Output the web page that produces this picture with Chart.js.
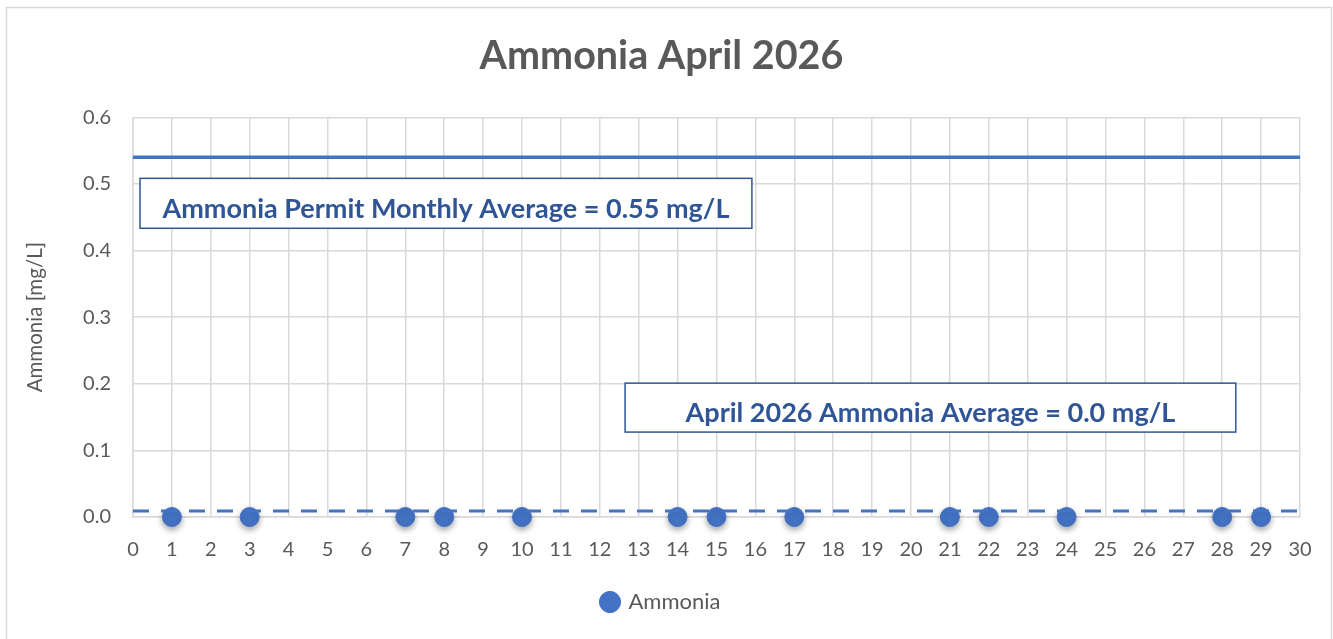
<!DOCTYPE html>
<html>
<head>
<meta charset="utf-8">
<script src="https://cdn.jsdelivr.net/npm/chart.js@4.4.0/dist/chart.umd.min.js"></script>
<style>
  html, body { margin: 0; padding: 0; background: #fff; }
  #wrap { position: absolute; left: 0; top: 0; width: 1333px; height: 639px; }
</style>
</head>
<body>
<div id="wrap"><canvas id="grafico"></canvas></div>
<script>
// dados do gráfico
const diasAmostra = [1, 3, 7, 8, 10, 14, 15, 17, 21, 22, 24, 28, 29];
const valoresAmonia = [0, 0, 0, 0, 0, 0, 0, 0, 0, 0, 0, 0, 0];
const limitePermit = 0.54;     // linha contínua (limite)
const mediaMes = 0.009;        // linha tracejada (média do mês)
const limiteX = [0, 30];
const ticksY = [0, 0.1, 0.2, 0.3, 0.4, 0.5, 0.6];

// caixas de texto (em unidades dos eixos)
const caixas = [
    { texto: 'Ammonia Permit Monthly Average = 0.55 mg/L', x0: 0.18, x1: 15.91, yTopo: 0.5085, yBase: 0.4335 },
    { texto: 'April 2026 Ammonia Average = 0.0 mg/L', x0: 12.65, x1: 28.35, yTopo: 0.201, yBase: 0.1275 }
];

const azul = '#4472C4';
const azulEscuro = '#2F5597';
const fonte = 'Lato, "Open Sans", sans-serif';

// moldura externa, caixas de anotação e sombra dos pontos
const pluginExtras = {
    id: 'extras',
    beforeDraw(chart) {
        const ctx = chart.ctx;
        ctx.save();
        ctx.strokeStyle = '#D9D9D9';
        ctx.lineWidth = 1.5;
        ctx.strokeRect(6.5, 7.5, 1325, 700);
        ctx.restore();
    },
    afterDatasetsDraw(chart) {
        const ctx = chart.ctx;
        const sx = chart.scales.x, sy = chart.scales.y;
        ctx.save();
        caixas.forEach(c => {
            const l = sx.getPixelForValue(c.x0), r = sx.getPixelForValue(c.x1);
            const t = sy.getPixelForValue(c.yTopo), b = sy.getPixelForValue(c.yBase);
            ctx.fillStyle = '#fff';
            ctx.fillRect(l, t, r - l, b - t);
            ctx.strokeStyle = azulEscuro;
            ctx.lineWidth = 1.5;
            ctx.strokeRect(l, t, r - l, b - t);
            ctx.fillStyle = azulEscuro;
            ctx.font = 'bold 27px ' + fonte;
            ctx.textAlign = 'center';
            ctx.textBaseline = 'middle';
            ctx.fillText(c.texto, (l + r) / 2, (t + b) / 2 + 6, r - l - 30);
        });
        ctx.restore();
    },
    beforeDatasetDraw(chart, args) {
        if (args.index === 0) {
            const ctx = chart.ctx;
            ctx.save();
            ctx.shadowColor = 'rgba(0,0,0,0.35)';
            ctx.shadowBlur = 6;
            ctx.shadowOffsetY = 3;
        }
    },
    afterDatasetDraw(chart, args) {
        if (args.index === 0) chart.ctx.restore();
    }
};

const ctx = document.getElementById('grafico').getContext('2d');
new Chart(ctx, {
    type: 'scatter',
    data: {
        datasets: [
            {
                label: 'Ammonia',
                data: diasAmostra.map((d, i) => ({ x: d, y: valoresAmonia[i] })),
                backgroundColor: azul,
                borderColor: azul,
                pointRadius: 9.5,
                pointHoverRadius: 9.5,
                clip: false,
                order: 2
            },
            {
                label: 'Permit',
                type: 'line',
                data: limiteX.map(x => ({ x: x, y: limitePermit })),
                borderColor: azul,
                borderWidth: 3.5,
                pointRadius: 0,
                order: 1
            },
            {
                label: 'Media',
                type: 'line',
                data: limiteX.map(x => ({ x: x, y: mediaMes })),
                borderColor: azul,
                borderWidth: 3,
                borderDash: [16, 12],
                pointRadius: 0,
                order: 0
            }
        ]
    },
    options: {
        responsive: true,
        maintainAspectRatio: false,
        animation: false,
        layout: { padding: { left: 23, right: 33, top: 0, bottom: 16 } },
        plugins: {
            title: {
                display: true,
                text: 'Ammonia April 2026',
                color: '#595959',
                font: { family: fonte, size: 39.5, weight: 'bold', lineHeight: 1.2 },
                padding: { top: 33, bottom: 37 }
            },
            legend: {
                display: true,
                position: 'bottom',
                labels: {
                    filter: item => item.datasetIndex === 0,
                    usePointStyle: true,
                    pointStyle: 'circle',
                    boxWidth: 15,
                    boxHeight: 15,
                    color: '#595959',
                    font: { family: fonte, size: 22 },
                    padding: 10
                }
            },
            tooltip: { enabled: false }
        },
        scales: {
            x: {
                type: 'linear',
                min: 0,
                max: 30,
                ticks: { stepSize: 1, color: '#595959', font: { family: fonte, size: 20 }, padding: 21 },
                grid: { color: '#D9D9D9', lineWidth: 1.5, drawTicks: false },
                border: { color: '#D9D9D9', width: 1.5 },
                afterFit: s => { s.height = 64; }
            },
            y: {
                min: 0,
                max: 0.6,
                afterBuildTicks: s => { s.ticks = ticksY.map(v => ({ value: v })); },
                ticks: { color: '#595959', font: { family: fonte, size: 20 }, padding: 22, callback: v => v.toFixed(1) },
                grid: { color: '#D9D9D9', lineWidth: 1.5, drawTicks: false },
                border: { color: '#D9D9D9', width: 1.5 },
                title: {
                    display: true,
                    text: 'Ammonia [mg/L]',
                    color: '#595959',
                    font: { family: fonte, size: 20.5 },
                    padding: { top: 0, bottom: 0 }
                },
                afterFit: s => { s.width = 110; }
            }
        }
    },
    plugins: [pluginExtras]
});
</script>
</body>
</html>
